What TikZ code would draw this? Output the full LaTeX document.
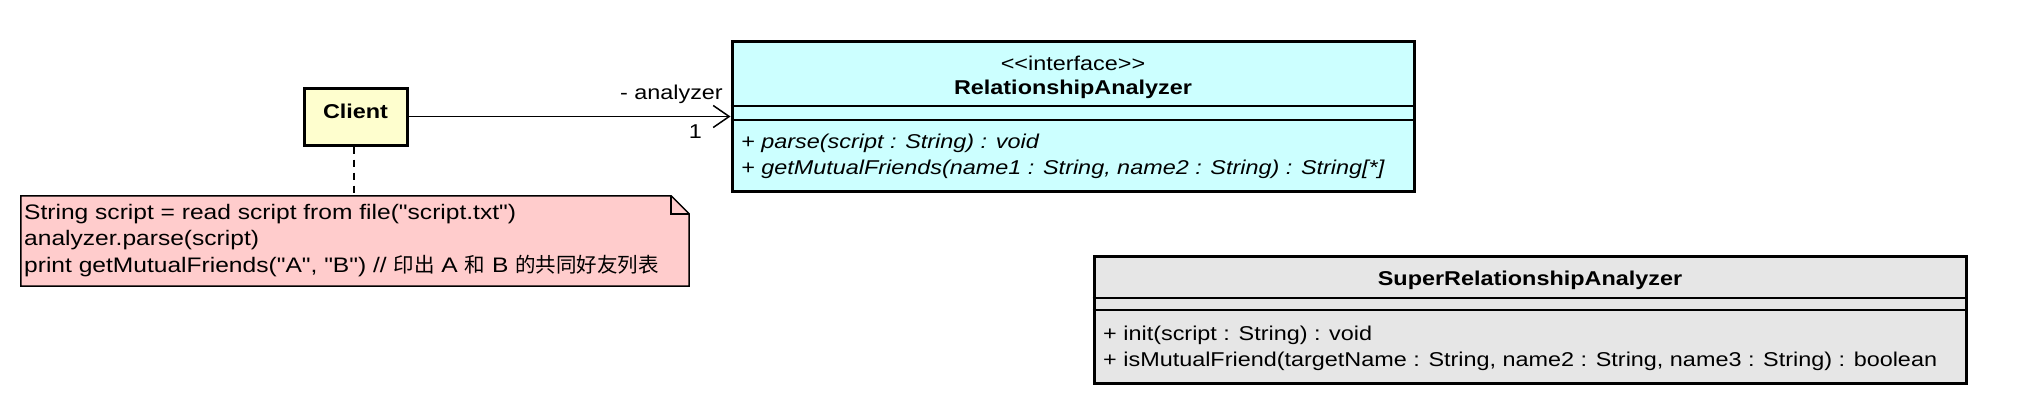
\documentclass[tikz,border=0pt]{standalone}
\usepackage{fontspec}
\setmainfont{Liberation Sans}
\newfontfamily\umlfont{Liberation Sans}[FakeStretch=1.17]
\newfontfamily\cjk{Noto Sans CJK SC}
\usetikzlibrary{arrows.meta,calc}
\definecolor{clientfill}{HTML}{FEFECE}
\definecolor{ifacefill}{HTML}{CCFFFF}
\definecolor{notefill}{HTML}{FFCCCC}
\definecolor{superfill}{HTML}{E6E6E6}
\newcommand{\zh}[1]{{\cjk\fontsize{20.5}{26}\selectfont #1}}
\begin{document}
\begin{tikzpicture}[x=1pt,y=-1pt,
  txt/.style={inner sep=0pt,text height=18pt,text depth=2pt,font=\umlfont\fontsize{20}{26}\selectfont},
  btxt/.style={txt,font=\umlfont\fontsize{20}{26}\selectfont\bfseries},
  itxt/.style={txt,font=\umlfont\fontsize{20}{26}\selectfont\itshape},
  ntxt/.style={txt,font=\umlfont\fontsize{21}{26}\selectfont},
  classbox/.style={draw=black,line width=3pt,inner sep=0pt},
  sepline/.style={draw=black,line width=1.5pt},
  assoc/.style={draw=black,line width=1.5pt,-{Straight Barb[length=16pt,width=22pt,line width=1.5pt]}},
  notestyle/.style={draw=black,fill=notefill,line width=1.5pt,line join=miter},
  dashline/.style={draw=black,line width=1.5pt,dash pattern=on 7pt off 6pt}]
\useasboundingbox (0,0) rectangle (2020,402);

% Client
\node[classbox,fill=clientfill,minimum width=103pt,minimum height=57pt] (client) at (355.5,116.5) {};
\node[btxt] (clientname) at (355.5,110.5) {Client};

% Interface
\node[classbox,fill=ifacefill,minimum width=682pt,minimum height=150pt] (iface) at (1073,116) {};
\node[txt] (ifstereo) at (1073,62) {<<interface>>};
\node[btxt] (ifname) at (1073,86) {RelationshipAnalyzer};
\coordinate (ifs1) at (0,106);
\coordinate (ifs2) at (0,120);
\draw[sepline] (iface.west |- ifs1) -- (iface.east |- ifs1);
\draw[sepline] (iface.west |- ifs2) -- (iface.east |- ifs2);
\node[itxt,anchor=west] (ifm1) at (741,140) {+ parse(script : String) : void};
\node[itxt,anchor=west] (ifm2) at (741,166) {+ getMutualFriends(name1 : String, name2 : String) : String[*]};

% Association
\coordinate (tip) at (client.east -| iface.west);
\draw[assoc] (client.east) -- (tip);
\node[txt,anchor=east] (rolelbl) at (723,91.5) {- analyzer};
\node[txt,anchor=east] (multlbl) at (702,130) {1};

% Note
\node[inner sep=0pt,minimum width=668pt,minimum height=90pt] (note) at (355,241) {};
\filldraw[notestyle] (note.north west) -- ($(note.north east)+(-18,0)$) -- ($(note.north east)+(0,18)$)
  -- (note.south east) -- (note.south west) -- cycle;
\draw[notestyle,fill=none] ($(note.north east)+(-18,0)$) -- ($(note.north east)+(-18,18)$) -- ($(note.north east)+(0,18)$);
\node[ntxt,anchor=west] (note1) at (24,211) {String script = read script from file("script.txt")};
\node[ntxt,anchor=west] (note2) at (24,237) {analyzer.parse(script)};
\node[ntxt,anchor=west] (note3) at (24,264) {print getMutualFriends("A", "B") // \zh{印出} A \zh{和} B \zh{的共同好友列表}};
\draw[dashline] (client.south -| 354,0) -- (note.north -| 354,0);

% Super
\node[classbox,fill=superfill,minimum width=872pt,minimum height=127pt] (super) at (1530,319.5) {};
\node[btxt] (supername) at (1530,277) {SuperRelationshipAnalyzer};
\coordinate (ss1) at (0,298);
\coordinate (ss2) at (0,310);
\draw[sepline] (super.west |- ss1) -- (super.east |- ss1);
\draw[sepline] (super.west |- ss2) -- (super.east |- ss2);
\node[txt,anchor=west] (superm1) at (1103,332) {+ init(script : String) : void};
\node[txt,anchor=west] (superm2) at (1103,358) {+ isMutualFriend(targetName : String, name2 : String, name3 : String) : boolean};
\end{tikzpicture}
\end{document}
